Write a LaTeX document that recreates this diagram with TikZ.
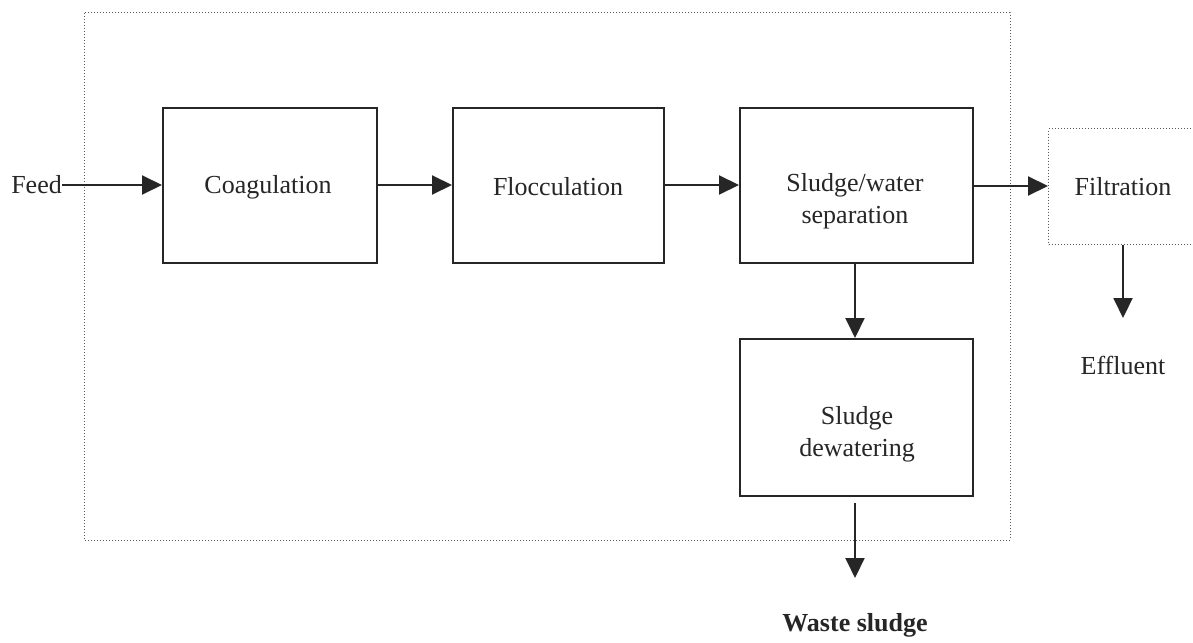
\documentclass[tikz,border=0pt]{standalone}
\usepackage{fontspec}
\setmainfont{Liberation Serif}
\usetikzlibrary{arrows.meta}
\begin{document}
\begin{tikzpicture}[x=1pt,y=-1pt,
  box/.style={draw=black!85, line width=2pt, minimum width=#1, inner sep=0pt},
  lbl/.style={font=\fontsize{26}{32}\selectfont, align=center, inner sep=0pt, text=black!85},
  flow/.style={draw=black!85, line width=2pt, -{Triangle[length=20pt,width=19pt]}},
  dots/.style={draw=gray!70!black, line width=1pt, dotted}]
\clip (0,0) rectangle (1193,642);
\fill[white] (0,0) rectangle (1193,642);
% outer dotted boundary
\draw[dots] (84,13) rectangle (1010,540);
% boxes
\node[box=214pt, minimum height=155pt, anchor=north west] (coag) at (162,107) {};
\node[box=211pt, minimum height=155pt, anchor=north west] (floc) at (452,107) {};
\node[box=233pt, minimum height=155pt, anchor=north west] (sep) at (739,107) {};
\node[box=233pt, minimum height=157pt, anchor=north west] (dew) at (739,338) {};
\node[dots, minimum width=160pt, minimum height=116pt, anchor=north west, inner sep=0pt] (filt) at (1048,128) {};
% labels
\node[lbl] (tcoag) at (268,187) {Coagulation};
\node[lbl] (tfloc) at (558,187) {Flocculation};
\node[lbl] (tsep) at (855,201) {Sludge/water\\separation};
\node[lbl] (tdew) at (857,434) {Sludge\\dewatering};
\node[lbl] (tfilt) at (1123,187) {Filtration};
\node[lbl, anchor=east] (feed) at (62,185) {Feed};
\node[lbl] (eff) at (1123,365) {Effluent};
\node[lbl, font=\fontsize{26}{32}\selectfont\bfseries] (waste) at (855,625) {Waste sludge};
% end coordinates
\coordinate (effend) at (1123,318);
\coordinate (wasteend) at (855,578);
% connectors
\draw[flow] (feed.east) -- (coag.west |- feed.east);
\draw[flow] (coag.east |- 0,185) -- (floc.west |- 0,185);
\draw[flow] (floc.east |- 0,185) -- (sep.west |- 0,185);
\draw[flow] (sep.east |- 0,186) -- (filt.west |- 0,186);
\draw[flow] (sep.south -| 855,0) -- (dew.north -| 855,0);
\draw[flow] (filt.south -| effend) -- (effend);
\draw[flow] ([yshift=-6pt]dew.south -| wasteend) -- (wasteend);
\end{tikzpicture}
\end{document}
